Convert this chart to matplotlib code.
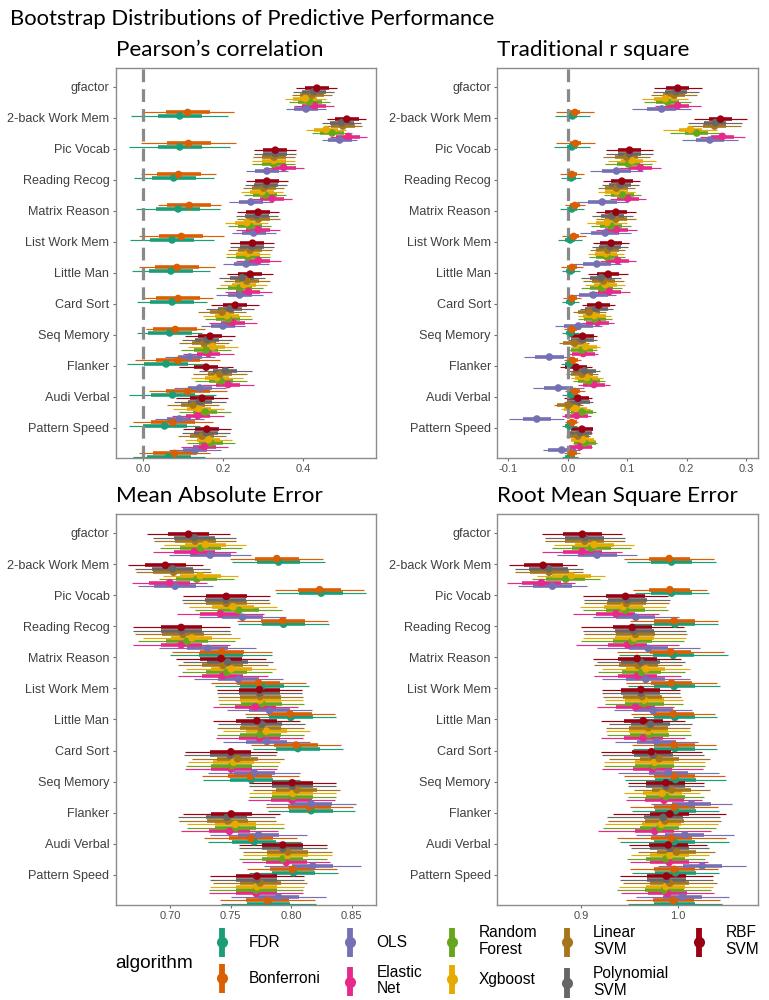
import numpy as np
import matplotlib.pyplot as plt
from matplotlib.lines import Line2D
from matplotlib.legend_handler import HandlerBase

plt.rcParams['font.family'] = ['Liberation Sans', 'DejaVu Sans']
plt.rcParams['axes.unicode_minus'] = False

tasks = ['gfactor', '2-back Work Mem', 'Pic Vocab', 'Reading Recog', 'Matrix Reason',
         'List Work Mem', 'Little Man', 'Card Sort', 'Seq Memory', 'Flanker',
         'Audi Verbal', 'Pattern Speed']
algorithms = ['FDR', 'Bonferroni', 'OLS', 'Elastic\nNet', 'Random\nForest', 'Xgboost',
              'Linear\nSVM', 'Polynomial\nSVM', 'RBF\nSVM']
colors = ['#1B9E77', '#D95F02', '#7570B3', '#E7298A', '#66A61E', '#E6AB02',
          '#A6761D', '#666666', '#990011']

# medians, columns follow `algorithms`
pearson_med = [
    [0.092, 0.112, 0.408, 0.429, 0.417, 0.406, 0.423, 0.427, 0.435],
    [0.092, 0.114, 0.492, 0.514, 0.473, 0.458, 0.500, 0.497, 0.510],
    [0.077, 0.089, 0.310, 0.352, 0.327, 0.327, 0.328, 0.331, 0.331],
    [0.088, 0.116, 0.270, 0.323, 0.306, 0.298, 0.302, 0.308, 0.310],
    [0.073, 0.096, 0.277, 0.288, 0.267, 0.260, 0.289, 0.285, 0.288],
    [0.070, 0.085, 0.258, 0.289, 0.262, 0.262, 0.268, 0.272, 0.274],
    [0.073, 0.088, 0.242, 0.264, 0.242, 0.252, 0.260, 0.248, 0.268],
    [0.067, 0.081, 0.200, 0.225, 0.214, 0.210, 0.198, 0.218, 0.231],
    [0.058, 0.087, 0.117, 0.164, 0.158, 0.175, 0.153, 0.160, 0.168],
    [0.074, 0.112, 0.142, 0.213, 0.195, 0.185, 0.193, 0.206, 0.158],
    [0.054, 0.075, 0.091, 0.137, 0.156, 0.139, 0.125, 0.142, 0.148],
    [0.064, 0.079, 0.131, 0.154, 0.170, 0.164, 0.148, 0.158, 0.160],
]
pearson_w95 = [
    [0.122, 0.115, 0.050, 0.050, 0.051, 0.051, 0.051, 0.051, 0.051],
    [0.127, 0.119, 0.044, 0.046, 0.050, 0.050, 0.048, 0.048, 0.049],
    [0.100, 0.095, 0.052, 0.050, 0.053, 0.053, 0.053, 0.053, 0.053],
    [0.105, 0.079, 0.055, 0.049, 0.052, 0.052, 0.052, 0.052, 0.052],
    [0.106, 0.107, 0.055, 0.055, 0.054, 0.054, 0.053, 0.053, 0.052],
    [0.097, 0.096, 0.058, 0.056, 0.055, 0.055, 0.055, 0.055, 0.055],
    [0.088, 0.088, 0.059, 0.058, 0.058, 0.058, 0.058, 0.058, 0.058],
    [0.081, 0.073, 0.056, 0.060, 0.060, 0.060, 0.060, 0.060, 0.060],
    [0.097, 0.106, 0.063, 0.063, 0.063, 0.063, 0.063, 0.063, 0.063],
    [0.110, 0.098, 0.065, 0.065, 0.065, 0.065, 0.067, 0.067, 0.067],
    [0.088, 0.100, 0.062, 0.065, 0.065, 0.065, 0.065, 0.065, 0.065],
    [0.090, 0.088, 0.065, 0.060, 0.060, 0.060, 0.060, 0.060, 0.060],
]
pearson_w66 = [0.055, 0.055, 0.030, 0.030, 0.030, 0.030, 0.030, 0.030, 0.030]

rsq_med = [
    [0.008, 0.012, 0.158, 0.185, 0.168, 0.164, 0.179, 0.182, 0.185],
    [0.007, 0.013, 0.239, 0.260, 0.217, 0.206, 0.247, 0.248, 0.257],
    [0.006, 0.007, 0.082, 0.122, 0.102, 0.108, 0.099, 0.104, 0.104],
    [0.007, 0.012, 0.058, 0.101, 0.092, 0.082, 0.082, 0.088, 0.091],
    [0.004, 0.010, 0.063, 0.082, 0.073, 0.066, 0.081, 0.075, 0.081],
    [0.005, 0.007, 0.049, 0.084, 0.066, 0.064, 0.067, 0.071, 0.073],
    [0.005, 0.007, 0.043, 0.070, 0.057, 0.063, 0.060, 0.056, 0.068],
    [0.005, 0.007, 0.018, 0.050, 0.046, 0.045, 0.036, 0.048, 0.052],
    [0.003, 0.008, -0.031, 0.026, 0.024, 0.030, 0.011, 0.025, 0.025],
    [0.006, 0.012, -0.016, 0.044, 0.036, 0.032, 0.024, 0.028, 0.014],
    [0.003, 0.007, -0.052, 0.015, 0.024, 0.013, 0.001, 0.018, 0.017],
    [0.004, 0.007, -0.010, 0.021, 0.029, 0.025, 0.017, 0.021, 0.024],
]
rsq_w95 = [
    [0.029, 0.032, 0.050, 0.039, 0.039, 0.039, 0.039, 0.039, 0.040],
    [0.030, 0.032, 0.047, 0.038, 0.045, 0.045, 0.045, 0.045, 0.045],
    [0.017, 0.020, 0.045, 0.035, 0.040, 0.040, 0.040, 0.040, 0.040],
    [0.020, 0.017, 0.043, 0.030, 0.031, 0.031, 0.031, 0.031, 0.031],
    [0.020, 0.020, 0.043, 0.034, 0.034, 0.034, 0.034, 0.034, 0.034],
    [0.015, 0.019, 0.040, 0.030, 0.030, 0.030, 0.030, 0.030, 0.030],
    [0.014, 0.015, 0.038, 0.034, 0.034, 0.034, 0.034, 0.034, 0.034],
    [0.014, 0.014, 0.040, 0.028, 0.028, 0.028, 0.028, 0.028, 0.028],
    [0.014, 0.015, 0.042, 0.025, 0.025, 0.025, 0.025, 0.025, 0.025],
    [0.015, 0.017, 0.043, 0.027, 0.027, 0.027, 0.027, 0.027, 0.027],
    [0.013, 0.011, 0.046, 0.024, 0.024, 0.024, 0.024, 0.024, 0.024],
    [0.013, 0.013, 0.031, 0.020, 0.020, 0.020, 0.020, 0.020, 0.017],
]
rsq_w66 = [0.008, 0.009, 0.024, 0.019, 0.019, 0.019, 0.019, 0.019, 0.019]

mae_med = [
    [0.7895, 0.7880, 0.7330, 0.7200, 0.7253, 0.7290, 0.7206, 0.7200, 0.7151],
    [0.8247, 0.8234, 0.7040, 0.6995, 0.7220, 0.7248, 0.7028, 0.7020, 0.6960],
    [0.7936, 0.7930, 0.7597, 0.7413, 0.7567, 0.7518, 0.7463, 0.7460, 0.7463],
    [0.7420, 0.7427, 0.7310, 0.7090, 0.7138, 0.7179, 0.7105, 0.7096, 0.7090],
    [0.7757, 0.7730, 0.7564, 0.7435, 0.7468, 0.7504, 0.7435, 0.7476, 0.7420],
    [0.7996, 0.7990, 0.7820, 0.7702, 0.7757, 0.7743, 0.7743, 0.7738, 0.7738],
    [0.8054, 0.8040, 0.7798, 0.7738, 0.7743, 0.7793, 0.7743, 0.7757, 0.7716],
    [0.7670, 0.7661, 0.7694, 0.7504, 0.7509, 0.7523, 0.7556, 0.7495, 0.7501],
    [0.8164, 0.8150, 0.8164, 0.8005, 0.8013, 0.8013, 0.8046, 0.8010, 0.8008],
    [0.7694, 0.7666, 0.7730, 0.7490, 0.7542, 0.7537, 0.7476, 0.7468, 0.7504],
    [0.8019, 0.8008, 0.8178, 0.7958, 0.7930, 0.7970, 0.7970, 0.7930, 0.7930],
    [0.7812, 0.7804, 0.7895, 0.7710, 0.7710, 0.7716, 0.7743, 0.7716, 0.7716],
]
mae_w95 = [
    [0.0385, 0.0385, 0.034, 0.034, 0.034, 0.034, 0.034, 0.034, 0.034],
    [0.037, 0.037, 0.031, 0.031, 0.031, 0.031, 0.031, 0.031, 0.031],
    [0.0375, 0.0375, 0.036, 0.036, 0.036, 0.036, 0.036, 0.036, 0.036],
    [0.042, 0.041, 0.040, 0.040, 0.040, 0.040, 0.040, 0.040, 0.040],
    [0.039, 0.039, 0.037, 0.037, 0.037, 0.037, 0.037, 0.037, 0.037],
    [0.037, 0.037, 0.035, 0.035, 0.035, 0.035, 0.035, 0.035, 0.035],
    [0.037, 0.037, 0.036, 0.036, 0.036, 0.036, 0.036, 0.036, 0.036],
    [0.040, 0.040, 0.038, 0.038, 0.038, 0.038, 0.038, 0.038, 0.038],
    [0.036, 0.036, 0.037, 0.036, 0.036, 0.036, 0.036, 0.036, 0.036],
    [0.0385, 0.0385, 0.040, 0.040, 0.040, 0.040, 0.040, 0.040, 0.040],
    [0.037, 0.037, 0.040, 0.0365, 0.0365, 0.0365, 0.0365, 0.0365, 0.0365],
    [0.039, 0.039, 0.039, 0.039, 0.039, 0.039, 0.039, 0.039, 0.039],
]
mae_w66 = [0.018, 0.018, 0.017, 0.017, 0.017, 0.017, 0.017, 0.017, 0.017]

rmse_med = [
    [0.9932, 0.9908, 0.9168, 0.9014, 0.9110, 0.9137, 0.9041, 0.9041, 0.9017],
    [0.9932, 0.9915, 0.8709, 0.8596, 0.8846, 0.8904, 0.8675, 0.8671, 0.8613],
    [0.9966, 0.9959, 0.9565, 0.9360, 0.9459, 0.9435, 0.9469, 0.9476, 0.9459],
    [0.9949, 0.9925, 0.9692, 0.9480, 0.9528, 0.9548, 0.9562, 0.9548, 0.9528],
    [0.9959, 0.9932, 0.9668, 0.9582, 0.9624, 0.9668, 0.9589, 0.9617, 0.9579],
    [0.9966, 0.9949, 0.9743, 0.9562, 0.9651, 0.9651, 0.9630, 0.9617, 0.9617],
    [0.9966, 0.9959, 0.9778, 0.9641, 0.9702, 0.9692, 0.9692, 0.9716, 0.9641],
    [0.9973, 0.9959, 0.9898, 0.9737, 0.9754, 0.9760, 0.9805, 0.9743, 0.9726],
    [0.9973, 0.9959, 1.0137, 0.9856, 0.9874, 0.9836, 0.9932, 0.9874, 0.9874],
    [0.9959, 0.9932, 1.0069, 0.9760, 0.9812, 0.9829, 0.9863, 0.9846, 0.9915],
    [0.9973, 0.9959, 1.0247, 0.9908, 0.9874, 0.9915, 0.9983, 0.9915, 0.9898],
    [0.9966, 0.9949, 1.0045, 0.9891, 0.9856, 0.9874, 0.9915, 0.9880, 0.9880],
]
rmse_w95 = [
    [0.046, 0.046, 0.041, 0.041, 0.041, 0.041, 0.041, 0.041, 0.041],
    [0.038, 0.038, 0.035, 0.035, 0.035, 0.035, 0.035, 0.035, 0.035],
    [0.044, 0.045, 0.044, 0.044, 0.044, 0.044, 0.044, 0.044, 0.044],
    [0.056, 0.055, 0.053, 0.053, 0.053, 0.053, 0.053, 0.053, 0.053],
    [0.047, 0.047, 0.045, 0.045, 0.045, 0.045, 0.045, 0.045, 0.045],
    [0.043, 0.043, 0.040, 0.040, 0.040, 0.040, 0.040, 0.040, 0.040],
    [0.043, 0.043, 0.043, 0.043, 0.043, 0.043, 0.043, 0.043, 0.043],
    [0.052, 0.052, 0.052, 0.052, 0.052, 0.052, 0.052, 0.052, 0.052],
    [0.045, 0.045, 0.042, 0.039, 0.039, 0.039, 0.039, 0.039, 0.039],
    [0.056, 0.056, 0.050, 0.058, 0.058, 0.058, 0.058, 0.058, 0.058],
    [0.045, 0.045, 0.045, 0.040, 0.040, 0.040, 0.040, 0.040, 0.040],
    [0.048, 0.048, 0.048, 0.048, 0.048, 0.048, 0.048, 0.048, 0.048],
]
rmse_w66 = [0.021, 0.021, 0.020, 0.020, 0.020, 0.020, 0.020, 0.020, 0.020]

panels = [
    ("Pearson\u2019s correlation", pearson_med, pearson_w95, pearson_w66,
     (-0.068, 0.583), [0.0, 0.2, 0.4], ['0.0', '0.2', '0.4'], True,
     [0.1505, 0.542, 0.3385, 0.390]),
    ("Traditional r square", rsq_med, rsq_w95, rsq_w66,
     (-0.119, 0.320), [-0.1, 0.0, 0.1, 0.2, 0.3], ['-0.1', '0.0', '0.1', '0.2', '0.3'], True,
     [0.6463, 0.542, 0.3394, 0.390]),
    ("Mean Absolute Error", mae_med, mae_w95, mae_w66,
     (0.655, 0.870), [0.70, 0.75, 0.80, 0.85], ['0.70', '0.75', '0.80', '0.85'], False,
     [0.1505, 0.095, 0.3385, 0.391]),
    ("Root Mean Square Error", rmse_med, rmse_w95, rmse_w66,
     (0.814, 1.082), [0.9, 1.0], ['0.9', '1.0'], False,
     [0.6463, 0.095, 0.3394, 0.391]),
]

fig = plt.figure(figsize=(7.69, 10), dpi=100)
fig.text(0.013, 0.981, 'Bootstrap Distributions of Predictive Performance',
         fontsize=15.8, family=['Lato', 'DejaVu Sans'], va='center', ha='left')

n_task = len(tasks)
n_alg = len(algorithms)
task_pos = np.arange(n_task)

for title, med, w95, w66, xlim, ticks, ticklabels, zero_line, rect in panels:
    med = np.array(med)
    w95 = np.array(w95)
    ax = fig.add_axes(rect)
    if zero_line:
        ax.axvline(0, color='#8a8a8a', lw=2.3, ls=(0, (4, 2.2)), zorder=2.5)
    for a in range(n_alg):
        # rows inside each task block go from RBF SVM (top) down to FDR (bottom)
        y = task_pos + 0.04 + (n_alg - 1 - a) * 0.112
        ax.hlines(y, med[:, a] - w95[:, a], med[:, a] + w95[:, a],
                  color=colors[a], lw=0.85, zorder=2)
        ax.hlines(y, med[:, a] - w66[a], med[:, a] + w66[a],
                  color=colors[a], lw=2.6, zorder=2.2)
    for a in range(n_alg):
        y = task_pos + 0.04 + (n_alg - 1 - a) * 0.112
        ax.scatter(med[:, a], y, s=30, color=colors[a], edgecolors='none', zorder=3)

    ax.set_xlim(*xlim)
    ax.set_ylim(11.97, -0.61)
    ax.set_yticks(task_pos)
    ax.set_yticklabels(tasks, fontsize=9.1, color='#404040')
    ax.set_xticks(ticks)
    ax.set_xticklabels(ticklabels, fontsize=8, color='#4d4d4d')
    ax.tick_params(axis='both', length=2.5, width=0.8, color='#6e6e6e', pad=2)
    for s in ax.spines.values():
        s.set_color('#8c8c8c')
        s.set_linewidth(1.0)
    ax.text(0.0, 1.045, title, transform=ax.transAxes, fontsize=16.2,
            family=['Lato', 'DejaVu Sans'], ha='left', va='center')


class PointIntervalKey(HandlerBase):
    def create_artists(self, legend, orig, xd, yd, w, h, fontsize, trans):
        cx = -xd + w / 2
        cy = -yd + h / 2
        c = orig.get_color()
        bar = Line2D([cx, cx], [cy - 10.5, cy + 10.5], color=c, lw=4.2,
                     solid_capstyle='butt', transform=trans)
        dot = Line2D([cx], [cy], marker='o', ms=8, color=c, mec='none', transform=trans)
        return [bar, dot]


handles = [Line2D([], [], color=c) for c in colors]
leg = fig.legend(handles, algorithms, loc='center left', bbox_to_anchor=(0.279, 0.0385),
                 ncol=5, frameon=False, fontsize=11.2, handlelength=1.0,
                 handleheight=2.25, handletextpad=1.2, columnspacing=1.4,
                 labelspacing=0.6, borderpad=0, borderaxespad=0,
                 handler_map={Line2D: PointIntervalKey()})
for t in leg.get_texts():
    t.set_linespacing(1.12)
fig.text(0.1495, 0.037, 'algorithm', fontsize=13.7, va='center', ha='left')

fig.savefig('out.png', dpi=100)
